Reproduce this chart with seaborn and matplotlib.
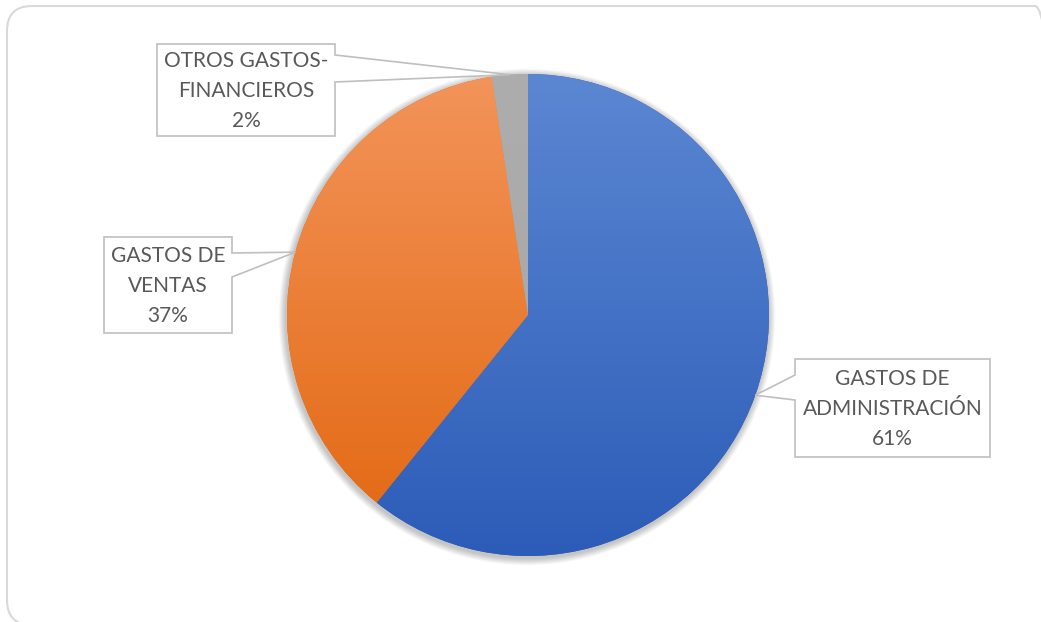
import numpy as np
import matplotlib.pyplot as plt
import seaborn as sns
from matplotlib.patches import Polygon, FancyBboxPatch, Circle
from matplotlib.colors import LinearSegmentedColormap

# ----------------------------
# DATA
# ----------------------------
categories = ["GASTOS DE\nADMINISTRACIÓN", "GASTOS DE\nVENTAS", "OTROS GASTOS-\nFINANCIEROS"]
values = [60.8, 36.8, 2.4]

# gradient colours (top, bottom) for each slice
grad_colors = [("#5b87d2", "#2c5cb8"), ("#f3945a", "#e2670f"), ("#adadad", "#a6a6a6")]

# callout boxes in pixel coords (left, top, right, bottom), pointer side + y-range
boxes = [
    ((795, 359, 990, 457), "left", (375, 400)),
    ((104, 237, 232, 333), "right", (253, 277)),
    ((157, 44, 335, 136), "right", (55, 82)),
]

# ----------------------------
# FIGURE
# ----------------------------
sns.set_theme(style="white")
plt.rcParams['font.family'] = ['Lato', 'DejaVu Sans']

W, H = 1041, 622
fig = plt.figure(figsize=(W / 100, H / 100), dpi=100)
ax = fig.add_axes([0, 0, 1, 1])

cx, cy, r = 528, H - 315, 241

# soft shadow behind the pie
for i in range(10):
    ax.add_patch(Circle((cx - 1, cy - 2), r + 1 + i * 0.7, color="black",
                        alpha=0.025, lw=0, zorder=0))

wedges, _ = ax.pie(values, startangle=90, counterclock=False, center=(cx, cy),
                   radius=r, colors=[c[1] for c in grad_colors],
                   wedgeprops=dict(linewidth=0))

# vertical gradient fill, clipped to each wedge
grad = np.linspace(0, 1, 256).reshape(-1, 1)
for w, (top, bot) in zip(wedges, grad_colors):
    w.set_zorder(1)
    cmap = LinearSegmentedColormap.from_list("g", [top, bot])
    im = ax.imshow(grad, extent=[cx - r, cx + r, cy - r, cy + r], origin="upper",
                   cmap=cmap, aspect="auto", zorder=2)
    im.set_clip_path(w)

# ----------------------------
# CALLOUT LABELS
# ----------------------------
for w, cat, val, (box, side, (p1, p2)) in zip(wedges, categories, values, boxes):
    mid = np.deg2rad((w.theta1 + w.theta2) / 2)
    tip = (cx + r * np.cos(mid), cy + r * np.sin(mid))
    x0, t, x1, b = box
    t, b, p1, p2 = H - t, H - b, H - p1, H - p2
    if side == "left":
        verts = [(x0, t), (x1, t), (x1, b), (x0, b), (x0, p2), tip, (x0, p1)]
    else:
        verts = [(x0, t), (x1, t), (x1, p1), tip, (x1, p2), (x1, b), (x0, b)]
    ax.add_patch(Polygon(verts, closed=True, fc="white", ec="#bfbfbf", lw=1.2, zorder=3))
    ax.text((x0 + x1) / 2, (t + b) / 2 - 1, f"{cat}\n{val:.0f}%", ha="center", va="center",
            fontsize=15, color="#595959", linespacing=1.6, zorder=4)

# rounded chart border (runs off the right and bottom edges)
ax.add_patch(FancyBboxPatch((7, H - 625), 1053, 619,
                            boxstyle="round,pad=0,rounding_size=25",
                            fc="none", ec="#d9d9d9", lw=1.5, zorder=5,
                            clip_on=False))

ax.set_xlim(0, W)
ax.set_ylim(0, H)
ax.set_aspect("auto")
ax.axis("off")

plt.savefig("out.png", dpi=100)
